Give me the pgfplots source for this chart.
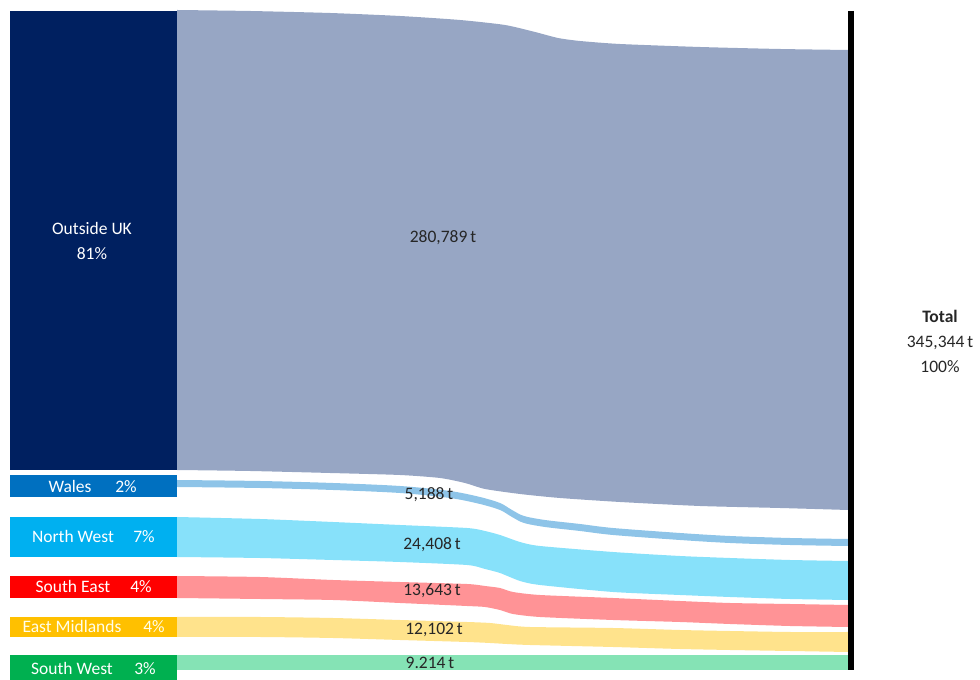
\documentclass[border=0pt]{standalone}
\usepackage{fontspec}
\setmainfont{Carlito}
\usepackage{pgfplots}
\pgfplotsset{compat=1.18}
\usepgfplotslibrary{fillbetween}
\definecolor{cOut}{HTML}{002060}
\definecolor{fOut}{HTML}{97A6C4}
\definecolor{cWal}{HTML}{0070C0}
\definecolor{fWal}{HTML}{8EC4E8}
\definecolor{cNW}{HTML}{00B0F0}
\definecolor{fNW}{HTML}{87E1FA}
\definecolor{cSE}{HTML}{FF0000}
\definecolor{fSE}{HTML}{FF9396}
\definecolor{cEM}{HTML}{FFC000}
\definecolor{fEM}{HTML}{FFE38C}
\definecolor{cSW}{HTML}{00B050}
\definecolor{fSW}{HTML}{85E3B5}
\definecolor{txt}{HTML}{262626}
\begin{document}
\begin{tikzpicture}[every node/.style={font=\fontsize{17.5bp}{25bp}\selectfont},
  lb/.style={anchor=base, inner sep=0pt}]
\begin{axis}[scale only axis, width=980bp, height=680bp,
  xmin=0, xmax=980, ymin=0, ymax=680, y dir=reverse,
  hide axis, clip=false]
\addplot[draw=none] coordinates {(0,0) (980,680)};
% ---- flows ----
% Outside UK
\addplot[name path=gt, draw=none, smooth, tension=0.4] coordinates {(177,10) (250,11) (330,13) (400,16) (460,20) (505,25) (535,32) (558,38) (580,41) (620,44) (700,47) (780,49) (848,50)};
\addplot[name path=gb, draw=none, smooth, tension=0.4] coordinates {(177,470) (250,471) (330,473) (400,475) (440,478) (465,483) (485,489) (520,494) (560,498) (620,502) (700,506) (780,508) (848,510)};
\addplot[fill=fOut, draw=none] fill between[of=gt and gb];
% Wales
\addplot[name path=wt, draw=none, smooth, tension=0.5] coordinates {(177,480) (260,481) (333,483) (400,486) (450,491) (480,497) (500,503) (512,510) (524,516) (545,520) (580,524) (613,528) (680,533) (730,536) (790,538) (848,539)};
\addplot[name path=wb, draw=none, smooth, tension=0.5] coordinates {(177,487) (260,488) (333,490) (400,493) (450,498) (480,504) (500,510) (512,517) (524,523) (545,527) (580,531) (613,535) (680,540) (730,543) (790,545) (848,546)};
\addplot[fill=fWal, draw=none] fill between[of=wt and wb];
% North West
\addplot[name path=nt, draw=none, smooth, tension=0.4] coordinates {(177,517) (260,519) (333,522) (400,525) (467,528) (485,531) (500,535) (520,542) (540,546) (613,552) (680,556) (730,558) (790,560) (848,561)};
\addplot[name path=nb, draw=none, smooth, tension=0.4] coordinates {(177,557) (260,558) (333,560) (400,562) (467,565) (485,569) (500,573) (520,581) (540,585) (613,592) (680,595) (730,597) (790,599) (848,600)};
\addplot[fill=fNW, draw=none] fill between[of=nt and nb];
% South East
\addplot[name path=st, draw=none, smooth, tension=0.4] coordinates {(177,576) (260,577) (333,580) (400,582) (467,584) (485,586) (500,588) (513,592) (540,595) (613,598) (680,601) (730,603) (790,604) (848,605)};
\addplot[name path=sb, draw=none, smooth, tension=0.4] coordinates {(177,598) (260,599) (333,600) (400,603) (467,606) (485,607) (500,610) (513,614) (540,617) (613,620) (680,622) (730,624) (790,626) (848,627)};
\addplot[fill=fSE, draw=none] fill between[of=st and sb];
% East Midlands
\addplot[name path=et, draw=none, smooth, tension=0.4] coordinates {(177,617) (260,617) (333,618) (400,620) (467,622) (490,623) (507,625) (530,627) (613,628) (680,630) (730,631) (790,632) (848,632)};
\addplot[name path=eb, draw=none, smooth, tension=0.4] coordinates {(177,637) (260,637) (333,638) (400,640) (467,642) (490,643) (507,644) (530,645) (613,647) (680,649) (730,650) (790,651) (848,652)};
\addplot[fill=fEM, draw=none] fill between[of=et and eb];
% South West
\addplot[name path=wwt, draw=none] coordinates {(177,655) (848,655)};
\addplot[name path=wwb, draw=none] coordinates {(177,670) (848,670)};
\addplot[fill=fSW, draw=none] fill between[of=wwt and wwb];
% ---- source boxes ----
\addplot[fill=cOut, draw=none] coordinates {(10,11) (177,11) (177,470) (10,470)} -- cycle;
\addplot[fill=cWal, draw=none] coordinates {(10,475) (177,475) (177,497) (10,497)} -- cycle;
\addplot[fill=cNW, draw=none] coordinates {(10,517) (177,517) (177,557) (10,557)} -- cycle;
\addplot[fill=cSE, draw=none] coordinates {(10,576) (177,576) (177,598) (10,598)} -- cycle;
\addplot[fill=cEM, draw=none] coordinates {(10,617) (177,617) (177,637) (10,637)} -- cycle;
\addplot[fill=cSW, draw=none] coordinates {(10,655) (177,655) (177,680) (10,680)} -- cycle;
% ---- total bar ----
\addplot[black, line width=6bp] coordinates {(851,11) (851,670)};
% ---- labels ----
\node[text=white, align=center] at (axis cs:92,241) {Outside UK\\81\%};
\node[lb, text=white] at (axis cs:70,493) {Wales};
\node[lb, text=white] at (axis cs:126,493) {2\%};
\node[lb, text=white] at (axis cs:73,543) {North West};
\node[lb, text=white] at (axis cs:144,543) {7\%};
\node[lb, text=white] at (axis cs:73,593) {South East};
\node[lb, text=white] at (axis cs:141,593) {4\%};
\node[lb, text=white!92!yellow] at (axis cs:72,633) {East Midlands};
\node[lb, text=white!92!yellow] at (axis cs:154,633) {4\%};
\node[lb, text=white] at (axis cs:72,675) {South West};
\node[lb, text=white] at (axis cs:145,675) {3\%};
\node[text=txt] at (axis cs:443,238) {280,789\,t};
\node[text=txt] at (axis cs:429,495) {5,188\,t};
\node[text=txt] at (axis cs:432,545) {24,408\,t};
\node[text=txt] at (axis cs:432,591) {13,643\,t};
\node[text=txt] at (axis cs:434,630) {12,102\,t};
\node[text=txt] at (axis cs:430,663) {9.214\,t};
\node[text=txt, align=center] at (axis cs:940,341) {\textbf{Total}\\345,344\,t\\100\%};
\end{axis}
\end{tikzpicture}
\end{document}
